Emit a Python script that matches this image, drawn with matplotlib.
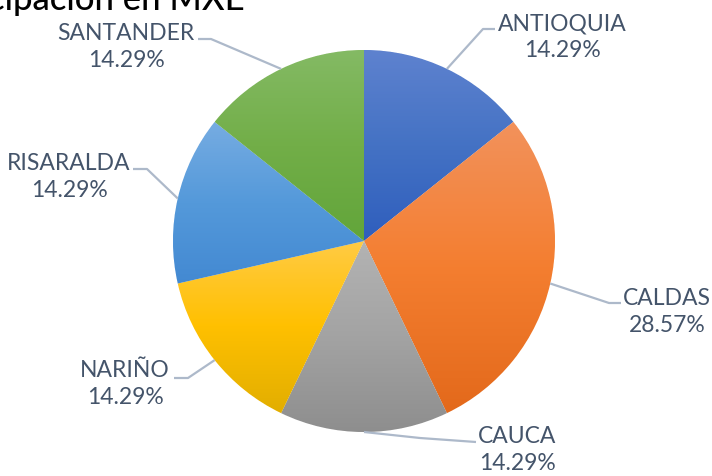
import numpy as np
import matplotlib
matplotlib.use('Agg')
import matplotlib.pyplot as plt
from matplotlib.colors import to_rgb

# Participación por departamento
departamentos = ['ANTIOQUIA', 'CALDAS', 'CAUCA', 'NARIÑO', 'RISARALDA', 'SANTANDER']
valores = [1, 2, 1, 1, 1, 1]

# degradado vertical (arriba, centro, abajo) de cada porción
colores = [
    ('#5E82CF', '#4472C4', '#2F5EBD'),
    ('#F2925C', '#F47E30', '#E3691B'),
    ('#B3B3B3', '#A3A3A3', '#8E8E8E'),
    ('#FFCB45', '#FFC000', '#E2AE00'),
    ('#76ACE2', '#5499DA', '#4389D2'),
    ('#84BA64', '#72AE48', '#62A53A'),
]

W, H = 712, 476
cx, cy, r = 364, 241, 191

# posición de las etiquetas (centro del texto) y quiebre de la línea guía, en px desde arriba
etiquetas = {
    'ANTIOQUIA': dict(xy=(562, 37), codo=[(483, 29), (495, 29)]),
    'CALDAS': dict(xy=(667, 312), codo=[(609, 303), (621, 303)]),
    'CAUCA': dict(xy=(517, 450), codo=[(420, 438), (476, 442)]),
    'NARIÑO': dict(xy=(125, 384), codo=[(188, 378), (174, 378)]),
    'RISARALDA': dict(xy=(69, 177), codo=[(147, 169), (133, 169)]),
    'SANTANDER': dict(xy=(126, 47), codo=[(211, 39), (198, 39)]),
}

plt.rcParams['font.family'] = ['Lato', 'DejaVu Sans']

fig = plt.figure(figsize=(W / 100, H / 100), dpi=100)
ax = fig.add_axes([0, 0, 1, 1])

def fy(y):
    return H - y

wedges, _ = ax.pie(valores, center=(cx, fy(cy)), radius=r, startangle=90,
                   counterclock=False, colors=[c[1] for c in colores],
                   wedgeprops=dict(edgecolor='white', linewidth=0.6))

# relleno en degradado recortado a cada porción
for w, (c_top, c_mid, c_bot) in zip(wedges, colores):
    ext = w.get_path().get_extents()
    n = 256
    t = np.linspace(0, 1, n)[:, None]
    top, mid, bot = (np.array(to_rgb(c)) for c in (c_top, c_mid, c_bot))
    grad = np.where(t < 0.5, top + (mid - top) * (t / 0.5), mid + (bot - mid) * ((t - 0.5) / 0.5))
    img = ax.imshow(grad[:, None, :], extent=[ext.x0, ext.x1, ext.y0, ext.y1],
                    origin='upper', aspect='auto', zorder=2, interpolation='bilinear')
    img.set_clip_path(w)

total = sum(valores)
for w, dep, v in zip(wedges, departamentos, valores):
    ang = np.deg2rad((w.theta1 + w.theta2) / 2)
    x0 = cx + r * np.cos(ang)
    y0 = fy(cy) + r * np.sin(ang)
    cfg = etiquetas[dep]
    xs = [x0] + [p[0] for p in cfg['codo']]
    ys = [y0] + [fy(p[1]) for p in cfg['codo']]
    ax.plot(xs, ys, color='#ADB9CA', lw=1.6, zorder=3, solid_capstyle='butt')
    tx, ty = cfg['xy']
    ax.text(tx, fy(ty), f'{dep}\n{v / total * 100:.2f}%', ha='center', va='center',
            fontsize=16.5, color='#44546A', linespacing=1.35, zorder=4)

# título (recortado por el borde superior)
ax.text(245, fy(10), 'Participación en MXE', ha='right', va='baseline',
        fontsize=25, fontweight='medium', color='black', zorder=4)

ax.set_xlim(0, W)
ax.set_ylim(0, H)
ax.set_aspect('auto')
ax.axis('off')

fig.savefig('out.png', dpi=100)
